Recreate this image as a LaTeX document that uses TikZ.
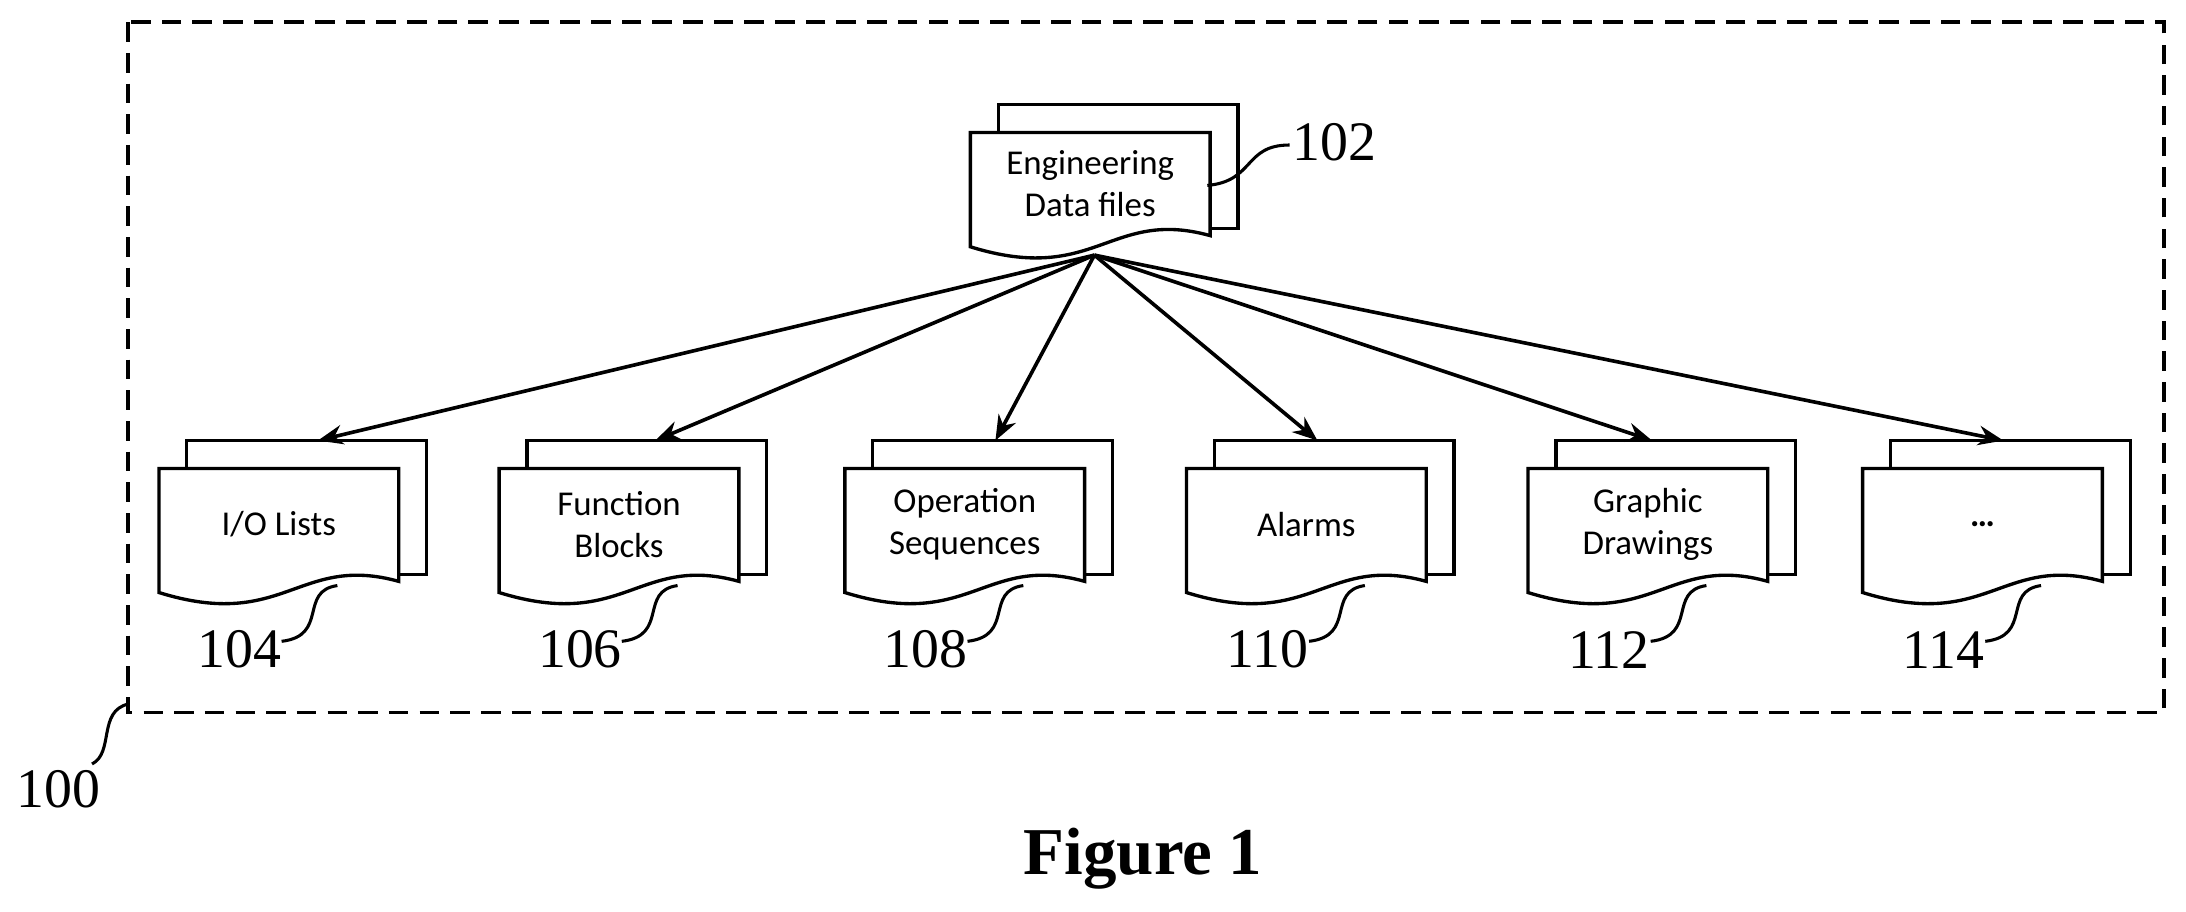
\documentclass[tikz,border=0pt]{standalone}
\usepackage{fontspec}
\setmainfont{Carlito}
\newfontfamily\numfont{Liberation Serif}
\usetikzlibrary{arrows.meta}
\tikzset{
 pg/.style={draw=black,line width=1.2pt,fill=white},
 arr/.style={-{Stealth[length=9pt,width=7pt]},line width=1.3pt},
 lbl/.style={font=\numfont\fontsize{20}{22}\selectfont,inner sep=0pt},
 dtxt/.style={font=\fontsize{12.5}{15}\selectfont,align=center,inner sep=0pt},
 sq/.style={line width=1.1pt}
}
% #1 name, #2 x0, #3 top, #4 height, #5 text
\newcommand{\mydoc}[5]{%
 \draw[pg] (#2+20,#3) -- (#2+20,#3-20) -- (#2+192,#3-20) -- (#2+192,#3+#4-13) -- (#2+172,#3+#4-13);
 \draw[pg] (#2,#3) -- (#2+172,#3) -- (#2+172,#3+#4-8)
   .. controls (#2+100,#3+#4-28) and (#2+90,#3+#4+28) .. (#2,#3+#4) -- cycle;
 \node[dtxt] (#1) at (#2+86,#3+0.45*#4) {#5};
}
\begin{document}
\begin{tikzpicture}[x=0.5pt,y=-0.5pt]
\useasboundingbox (0,0) rectangle (1568,654);
\draw[dashed,line width=1.3pt,dash pattern=on 7pt off 4pt] (92,16) rectangle (1552,511);
\node[lbl] (n100) at (42,566) {100};
\draw[sq] (92,505) .. controls (70,510) and (82,540) .. (66,548);
\node[font=\numfont\bfseries\fontsize{24}{26}\selectfont] (fig) at (820,616) {Figure 1};

\mydoc{d102}{696}{95}{82}{Engineering\\Data files}
\node[lbl] (n102) at (957,102) {102};
\draw[sq] (866,133) .. controls (900,130) and (892,104) .. (925,104);
\coordinate (src) at (785,183);

\foreach \nm/\xx/\tt/\num/\dx in {a/114/{I/O Lists}/104/114, b/358/{Function\\Blocks}/106/112, c/606/{Operation\\Sequences}/108/108, d/851/Alarms/110/94, e/1096/{Graphic\\Drawings}/112/89, f/1336/{\textbf{\ldots}}/114/101}{
 \mydoc{\nm}{\xx}{336}{89}{\tt}
 \coordinate (\nm end) at (\xx+\dx,316);
 \draw[arr] (src) -- (\nm end);
 \node[lbl] (\nm lab) at (\xx+58,466) {\num};
 \draw[sq] (\xx+128,420) .. controls (\xx+100,424) and (\xx+122,456) .. (\xx+88,460);
}
\end{tikzpicture}
\end{document}
